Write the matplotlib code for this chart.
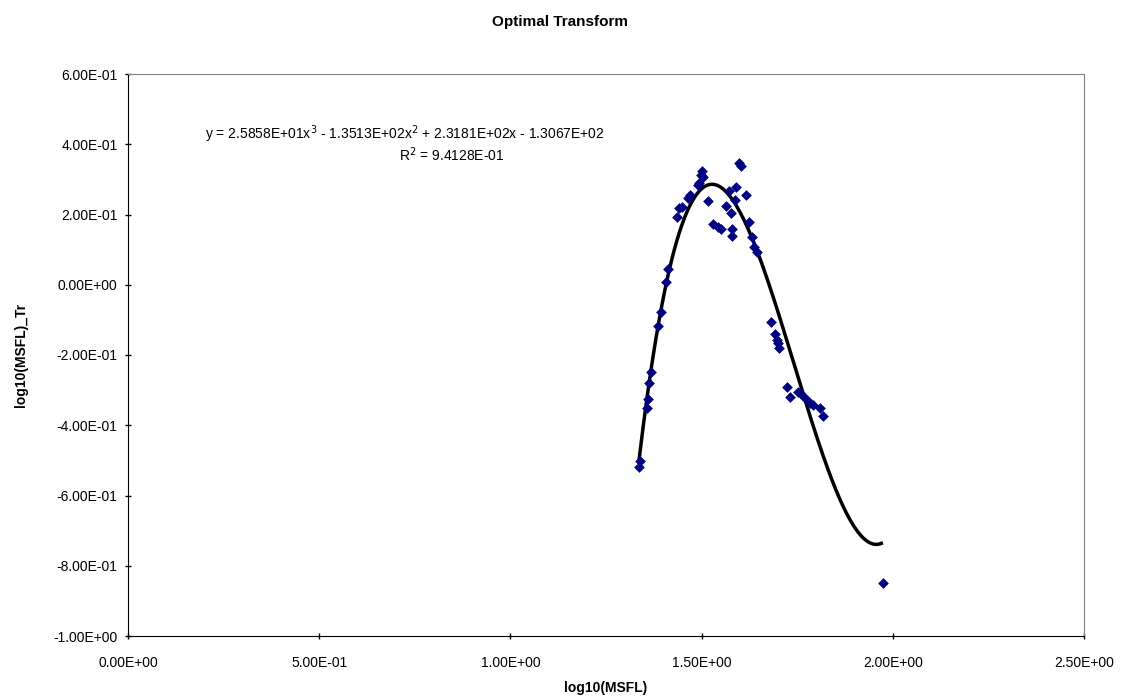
import numpy as np
import matplotlib.pyplot as plt

plt.rcParams['font.family'] = ['Liberation Sans', 'DejaVu Sans']

# log10(MSFL) vs transformed values
x_vals = [1.5986, 1.6023, 1.5003, 1.4984, 1.5045, 1.4932, 1.4898, 1.4697, 1.4652,
          1.4480, 1.4417, 1.4365, 1.5175, 1.5892, 1.5724, 1.5873, 1.5638, 1.5761,
          1.6153, 1.6247, 1.5306, 1.5437, 1.5507, 1.5787, 1.5787, 1.6310, 1.6378,
          1.6441, 1.4114, 1.4069, 1.3930, 1.3852, 1.6807, 1.6919, 1.7006, 1.7032,
          1.3677, 1.3632, 1.3590, 1.3564, 1.3389, 1.3371, 1.7241, 1.7312, 1.7573,
          1.7704, 1.7835, 1.7921, 1.8096, 1.8183, 1.9752, 1.7529, 1.6980]
y_vals = [0.346, 0.339, 0.325, 0.312, 0.308, 0.289, 0.284, 0.256, 0.246,
          0.222, 0.218, 0.194, 0.239, 0.279, 0.267, 0.241, 0.224, 0.203,
          0.256, 0.180, 0.173, 0.164, 0.158, 0.158, 0.139, 0.135, 0.108,
          0.094, 0.045, 0.009, -0.077, -0.117, -0.106, -0.141, -0.165, -0.181,
          -0.248, -0.281, -0.325, -0.350, -0.502, -0.518, -0.290, -0.319, -0.309,
          -0.323, -0.338, -0.342, -0.352, -0.374, -0.850, -0.304, -0.158]

# cubic trendline coefficients as printed on the chart
coefs = [2.5858e+01, -1.3513e+02, 2.3181e+02, -1.3067e+02]
r2 = 9.4128e-01

fig = plt.figure(figsize=(11.21, 6.98), dpi=100)
ax = fig.add_axes([128 / 1121, 1 - 636 / 698, (1084 - 128) / 1121, (636 - 74) / 698])

xs = np.linspace(min(x_vals), 1.97, 300)
ax.plot(xs, np.polyval(coefs, xs), color='black', lw=2.5, zorder=2)
ax.scatter(x_vals, y_vals, marker='D', s=30, color='#000080', zorder=3, linewidths=0)

ax.set_xlim(0, 2.5)
ax.set_ylim(-1.0, 0.6)
ax.set_xticks(np.round(np.arange(0, 2.51, 0.5), 6))
ax.set_yticks(np.round(np.arange(-1.0, 0.61, 0.2), 6))
fmt = plt.FuncFormatter(lambda v, p: f"{round(v, 6) + 0.0:.2E}")
ax.xaxis.set_major_formatter(fmt)
ax.yaxis.set_major_formatter(fmt)
ax.tick_params(labelsize=10, length=5, direction='inout', width=1)
ax.tick_params(axis='x', pad=12)
ax.tick_params(axis='y', pad=5)

for s in ['top', 'right']:
    ax.spines[s].set_color('#808080')
for s in ['left', 'bottom']:
    ax.spines[s].set_color('black')

ax.set_xlabel('log10(MSFL)', fontsize=10, fontweight='bold', labelpad=8)
ax.set_ylabel('log10(MSFL)_Tr', fontsize=10, fontweight='bold', labelpad=18)
fig.suptitle('Optimal Transform', fontsize=11, fontweight='bold', y=0.978)

fig.text(405 / 1121, 1 - 134 / 698,
         "y = 2.5858E+01x$^3$ - 1.3513E+02x$^2$ + 2.3181E+02x - 1.3067E+02",
         fontsize=10, ha='center', va='center')
fig.text(452 / 1121, 1 - 155 / 698, f"R$^2$ = {r2:.4E}",
         fontsize=10, ha='center', va='center')

fig.savefig('out.png', dpi=100)
